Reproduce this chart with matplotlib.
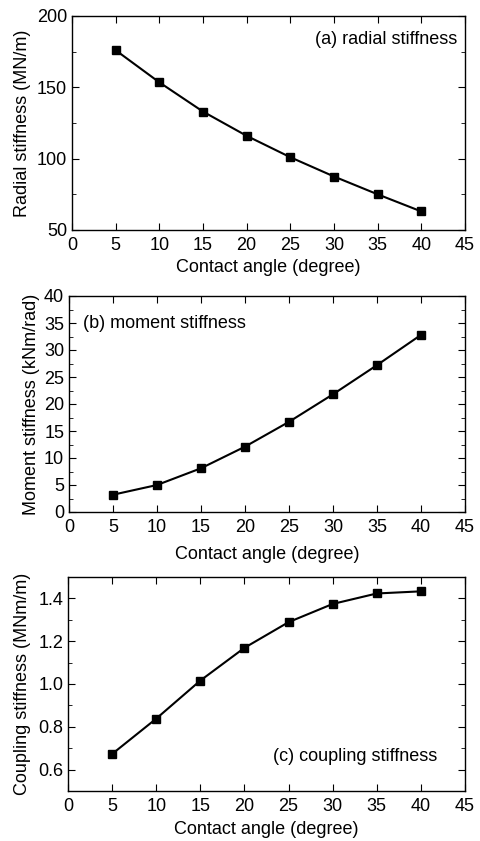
import matplotlib
matplotlib.use("Agg")
import matplotlib.pyplot as plt
from matplotlib.ticker import MultipleLocator, FormatStrFormatter

plt.rcParams['font.family'] = ['Liberation Sans', 'DejaVu Sans']
plt.rcParams['font.size'] = 13

# Contact angle sweep and the three stiffness terms
angle = [5, 10, 15, 20, 25, 30, 35, 40]
radial = [176, 153.5, 133, 116, 101, 87.5, 75, 63]          # MN/m
moment = [3.2, 5.0, 8.1, 12.1, 16.7, 21.8, 27.2, 32.8]      # kNm/rad
coupling = [0.673, 0.838, 1.016, 1.169, 1.289, 1.374, 1.423, 1.433]  # MNm/m

W, H = 480, 841
fig = plt.figure(figsize=(W / 100, H / 100), dpi=100)

def panel(box, y, ylim, ymaj, ymin, ylabel, note, note_xy, ha, xpad, ypad):
    l, t, r, b = box
    ax = fig.add_axes([l / W, 1 - b / H, (r - l) / W, (b - t) / H])
    ax.plot(angle, y, color='black', lw=1.5, marker='s', ms=5.5)
    ax.set_xlim(0, 45)
    ax.set_ylim(*ylim)
    ax.xaxis.set_major_locator(MultipleLocator(5))
    ax.yaxis.set_major_locator(MultipleLocator(ymaj))
    ax.yaxis.set_minor_locator(MultipleLocator(ymin))
    ax.tick_params(which='both', direction='in', top=True, right=True, labelsize=13)
    ax.tick_params(axis='x', pad=5)
    ax.tick_params(axis='y', pad=3.5)
    ax.tick_params(which='major', length=5)
    ax.tick_params(which='minor', length=3)
    for s in ax.spines.values():
        s.set_linewidth(1.0)
    ax.set_xlabel('Contact angle (degree)', fontsize=13, labelpad=xpad)
    ax.set_ylabel(ylabel, fontsize=13, labelpad=ypad)
    ax.text(note_xy[0], note_xy[1], note, transform=ax.transAxes,
            ha=ha, va='center', fontsize=13)
    return ax

panel((72, 16, 465, 230), radial, (50, 200), 50, 25,
      'Radial stiffness (MN/m)', '(a) radial stiffness', (0.98, 0.89), 'right', 4, 4.5)

panel((69, 296, 465, 512), moment, (0, 40), 5, 2.5,
      'Moment stiffness (kNm/rad)', '(b) moment stiffness', (0.035, 0.875), 'left', 7, 3)

ax_c = panel((68, 577, 465, 791), coupling, (0.5, 1.5), 0.2, 0.1,
             'Coupling stiffness (MNm/m)', '(c) coupling stiffness', (0.93, 0.16), 'right', 4, 5)
ax_c.set_yticks([0.6, 0.8, 1.0, 1.2, 1.4])
ax_c.yaxis.set_major_formatter(FormatStrFormatter('%.1f'))

fig.savefig('out.png', dpi=100)
